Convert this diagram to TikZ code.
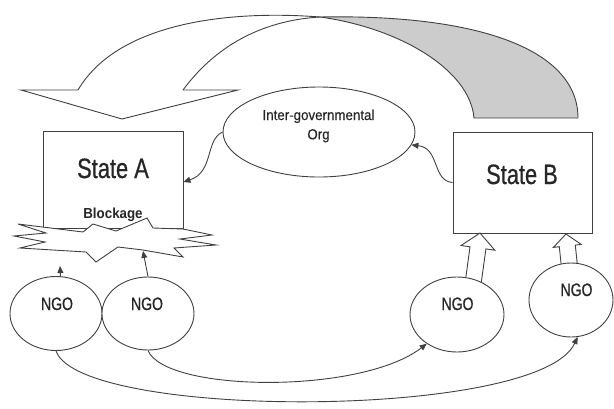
\documentclass[tikz,border=0pt]{standalone}
\usepackage{fontspec}
\setmainfont{Liberation Sans}
\newfontfamily\narrowfont[FakeStretch=0.78,FakeBold=0.6]{Liberation Sans}
\newfontfamily\blockfont[FakeStretch=0.92]{Liberation Sans}
\newfontfamily\igofont[FakeStretch=0.92,FakeBold=0.3]{Liberation Sans}
\usetikzlibrary{arrows.meta,shapes.geometric}
\definecolor{linegray}{gray}{0.25}
\definecolor{ribbongray}{gray}{0.80}
\definecolor{textgray}{gray}{0.15}
\tikzset{
  ln/.style={draw=linegray,line width=0.9pt},
  conn/.style={ln,-{Triangle[length=7pt,width=6pt]}},
  statebox/.style={ln,fill=white,rectangle,inner sep=0pt},
  ngo/.style={ln,fill=white,ellipse,inner sep=0pt},
  bigtxt/.style={text=textgray,inner sep=0pt,anchor=base,font=\narrowfont\fontsize{28}{30}\selectfont},
  ngotxt/.style={text=textgray,inner sep=0pt,anchor=base,font=\narrowfont\fontsize{18}{20}\selectfont},
  hollow/.style={ln,fill=white,line join=miter}
}
\begin{document}
\begin{tikzpicture}[x=1pt,y=-1pt]
\path[use as bounding box] (0,0) rectangle (614,408);

% twisted ribbon arrow
\coordinate (X) at (320,17);
\fill[ribbongray] (X) .. controls (480,14) and (578,50) .. (578,118) -- (474,118)
  .. controls (470,70) and (400,28) .. (X) -- cycle;
\draw[ln] (78,90) .. controls (118,22) and (230,10) .. (X)
          .. controls (400,28) and (470,70) .. (474,118) -- (578,118);
\draw[ln] (183,90) .. controls (220,40) and (270,20) .. (X)
          .. controls (480,14) and (578,50) .. (578,118);
\draw[ln,line join=miter] (183,90) -- (238,90) -- (122,119) -- (21,90) -- (78,90);

% inter-governmental organisation
\node[ngo,minimum width=192pt,minimum height=90pt] (igo) at (319,132) {};
\node[text=textgray,inner sep=0pt,align=center,font=\igofont\fontsize{14.5}{19.3}\selectfont] (igotxt) at (318.5,125.9) {Inter-governmental\\Org};

% State A with blockage
\node[statebox,minimum width=140pt,minimum height=97pt] (stateA) at (113,179.5) {};
\draw[ln,fill=white,line join=miter] (18,224) -- (83,232) -- (93,224) -- (116,231) -- (147,218) -- (153,228)
  -- (183,229) -- (212,235) -- (180,239) -- (216,245) -- (174,248) -- (183,257)
  -- (143,250) -- (118,247) -- (96,262) -- (86,252) -- (20,248) -- (45,242)
  -- (14,236) -- (46,233) -- cycle;
\node[bigtxt] (stateAtxt) at (113,178) {State A};
\node[text=textgray,inner sep=0pt,anchor=base,font=\blockfont\bfseries\fontsize{14.5}{16}\selectfont] (block) at (113,218.5) {Blockage};

% State B
\node[statebox,minimum width=139pt,minimum height=101pt] (stateB) at (522.5,182.5) {};
\node[bigtxt] (stateBtxt) at (522,184) {State B};

% connectors via IGO
\draw[conn] (igo.west) .. controls (205,140) and (214,172) .. ([yshift=-2.5pt]stateA.east);
\draw[conn] (stateB.west) .. controls (432,181) and (440,148) .. (igo.-8);

% hollow arrows NGO -> State B
\draw[hollow] (465.1,282.9) -- (470.0,246.8) -- (461.1,245.5) -- (480,233) -- (494.8,250.2) -- (485.9,248.9) -- (480.9,285.1);
\draw[hollow] (562.0,272.8) -- (559.3,246.7) -- (553.4,247.4) -- (566,234) -- (581.2,244.4) -- (575.3,245.1) -- (578.0,271.2);

% NGOs
\node[ngo,minimum width=92pt,minimum height=74pt] (ngo1) at (56,313.5) {};
\node[ngo,minimum width=92pt,minimum height=73pt] (ngo2) at (148,313.5) {};
\node[ngo,minimum width=94pt,minimum height=75pt] (ngo3) at (457,314.5) {};
\node[ngo,minimum width=84pt,minimum height=74pt] (ngo4) at (571,300) {};
\node[ngotxt] (t1) at (57,310) {NGO};
\node[ngotxt] (t2) at (147,310) {NGO};
\node[ngotxt] (t3) at (457.5,310) {NGO};
\node[ngotxt] (t4) at (576.5,296) {NGO};

% NGO arrows to the blockage
\coordinate (b1) at (60,266);
\coordinate (b2) at (143,251);
\draw[conn] (ngo1.83) -- (b1);
\draw[conn] (ngo2.north) -- (b2);

% NGO to NGO links
\draw[conn] (ngo2.south) .. controls (165,392) and (360,395) .. (ngo3.224);
\draw[conn] (ngo1.south) .. controls (80,420) and (540,420) .. (ngo4.280);
\end{tikzpicture}
\end{document}
